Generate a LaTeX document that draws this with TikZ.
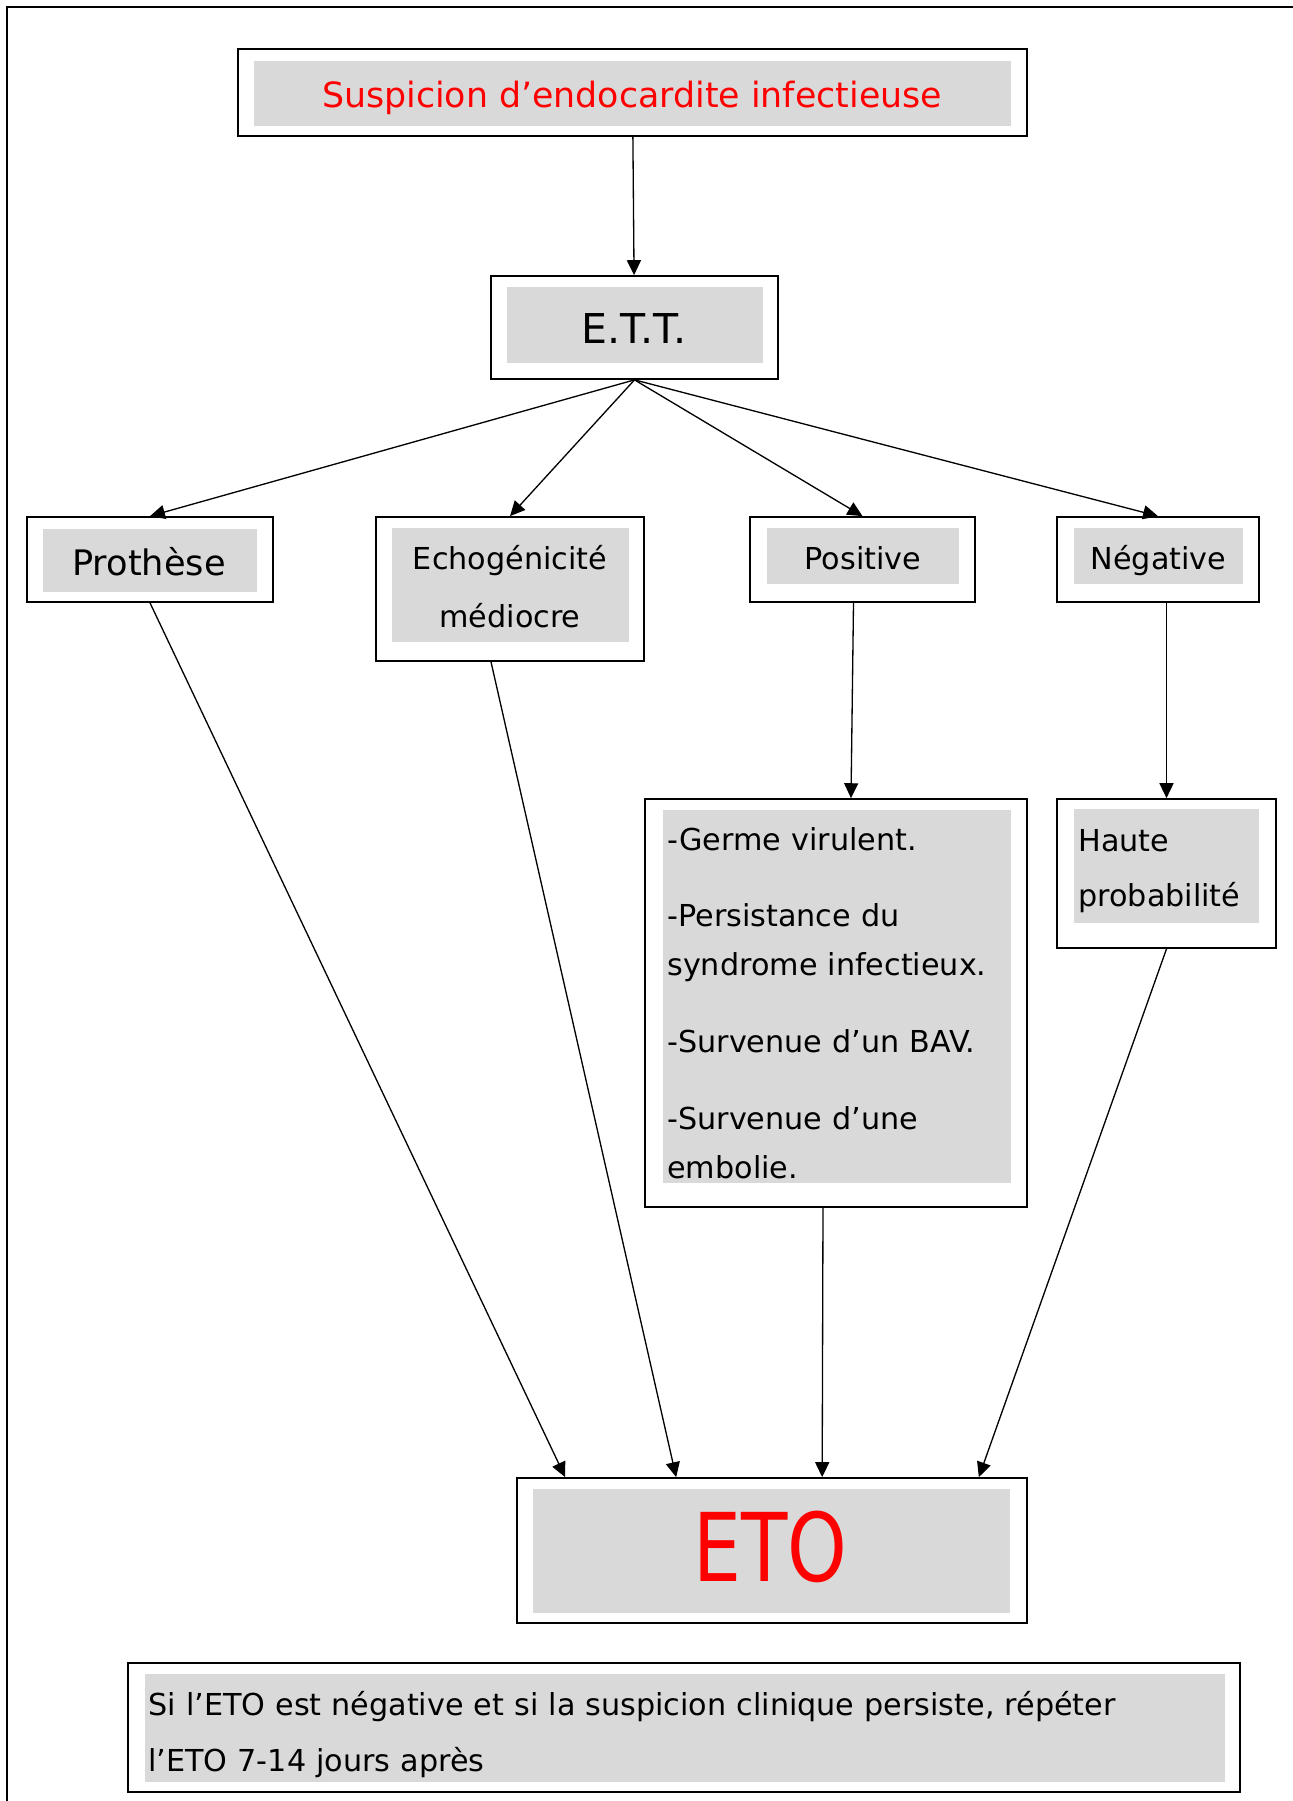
\documentclass[tikz,border=0pt]{standalone}
\usepackage{fontspec}
\setmainfont{DejaVu Sans}
\usepackage{graphicx}
\usetikzlibrary{arrows.meta, positioning, calc}
\definecolor{boxgray}{HTML}{D9D9D9}
\tikzset{
    outerbox/.style = {rectangle, draw, line width=1pt, fill=white, inner sep=0pt},
    graybox/.style = {rectangle, fill=boxgray, inner sep=0pt},
    label/.style = {inner sep=0pt},
    bigtext/.style = {font=\fontsize{19.8}{24}\selectfont},
    midtext/.style = {font=\fontsize{17.2}{31.8}\selectfont},
    line/.style = {draw, -{Triangle[length=8.5pt, width=8pt]}, line width=0.75pt}
}

\begin{document}
\begin{tikzpicture}[x=0.02cm, y=-0.02cm]
        \useasboundingbox (0,0) rectangle (1293,1801);
        % Page frame
        \draw[line width=1.1pt] (7,1801) -- (7,7) -- (1293,7);

        % Suspicion
        \node [outerbox, minimum width=15.78cm, minimum height=1.74cm] (susp) at (632.5,92.5) {};
        \node [graybox, minimum width=15.14cm, minimum height=1.30cm] (suspbg) at (632.5,93.5) {};
        \node [label, bigtext, text=red, anchor=base] (susptxt) at (632,108) {Suspicion d’endocardite infectieuse};

        % E.T.T.
        \node [outerbox, minimum width=5.74cm, minimum height=2.06cm] (ett) at (634.5,327.5) {};
        \node [graybox, minimum width=5.12cm, minimum height=1.52cm] (ettbg) at (635,325) {};
        \node [label, font=\fontsize{23.4}{28}\selectfont, anchor=base] (etttxt) at (634,343) {E.T.T.};

        % Indications
        \node [outerbox, minimum width=4.92cm, minimum height=1.70cm] (proth) at (150,559.5) {};
        \node [graybox, minimum width=4.28cm, minimum height=1.26cm] (prothbg) at (150,560.5) {};
        \node [label, font=\fontsize{20}{24}\selectfont, anchor=base] (prothtxt) at (149,575) {Prothèse};

        \node [outerbox, minimum width=5.36cm, minimum height=2.88cm] (echo) at (510,589) {};
        \node [graybox, minimum width=4.74cm, minimum height=2.28cm] (echobg) at (510.5,585) {};
        \node [label, font=\fontsize{17.2}{32.6}\selectfont, align=center, anchor=base] (echotxt) at (510,627) {Echogénicité\\médiocre};

        \node [outerbox, minimum width=4.50cm, minimum height=1.70cm] (pos) at (862.5,559.5) {};
        \node [graybox, minimum width=3.84cm, minimum height=1.12cm] (posbg) at (863,556) {};
        \node [label, midtext, anchor=base] (postxt) at (863,569) {Positive};

        \node [outerbox, minimum width=4.04cm, minimum height=1.70cm] (neg) at (1158,559.5) {};
        \node [graybox, minimum width=3.38cm, minimum height=1.12cm] (negbg) at (1158.5,556) {};
        \node [label, midtext, anchor=base] (negtxt) at (1158.5,569) {Négative};

        % Criteria
        \node [outerbox, minimum width=7.64cm, minimum height=8.16cm] (crit) at (836,1003) {};
        \node [graybox, minimum width=6.96cm, minimum height=7.46cm] (critbg) at (837,996.5) {};
        \node [label, font=\fontsize{17.2}{27.8}\selectfont, align=left, text width=6.8cm, anchor=base west] (crittxt) at (667,850)
            {-Germe virulent.\\[15.9pt]-Persistance du\\syndrome infectieux.\\[15.9pt]-Survenue d’un BAV.\\[15.9pt]-Survenue d’une\\embolie.};

        \node [outerbox, minimum width=4.38cm, minimum height=2.98cm] (haute) at (1166.5,873.5) {};
        \node [graybox, minimum width=3.70cm, minimum height=2.28cm] (hautebg) at (1166.5,866) {};
        \node [label, midtext, align=left, text width=3.6cm, anchor=base west] (hautetxt) at (1078,851) {Haute\\probabilité};

        % ETO
        \node [outerbox, minimum width=10.20cm, minimum height=2.90cm] (eto) at (772,1550.5) {};
        \node [graybox, minimum width=9.54cm, minimum height=2.48cm] (etobg) at (771.5,1551) {};
        \node [label, font=\fontsize{54}{60}\selectfont, text=red, anchor=base] (etotxt) at (770.5,1581) {\scalebox{0.8}[1]{ETO}};

        % Note
        \node [outerbox, minimum width=22.24cm, minimum height=2.58cm] (note) at (684,1727.5) {};
        \node [graybox, minimum width=21.60cm, minimum height=2.16cm] (notebg) at (685,1728) {};
        \node [label, font=\fontsize{17.2}{32.3}\selectfont, align=left, text width=21.4cm, anchor=base west] (notetxt) at (148,1715)
            {Si l’ETO est négative et si la suspicion clinique persiste, répéter\\l’ETO 7-14 jours après};

        % Arrows
        \path [line] (susp) -- (ett);
        \path [line] (ett.south) -- (proth.north);
        \path [line] (ett.south) -- (echo.north);
        \path [line] (ett.south) -- (pos.north);
        \path [line] (ett.south) -- (neg.north);
        \path [line] (proth.south) -- ($(eto.north west)+(49,0)$);
        \path [line] ($(echo.south)+(-19,0)$) -- ($(eto.north west)+(160,0)$);
        \path [line] ($(pos.south)+(-9,0)$) -- ($(crit.north)+(15,0)$);
        \path [line] (neg.south -| haute.north) -- (haute.north);
        \path [line] ($(crit.south)+(-13,0)$) -- ($(eto.north west)+(306,0)$);
        \path [line] (haute.south) -- ($(eto.north east)+(-49,0)$);

    \end{tikzpicture}
\end{document}
